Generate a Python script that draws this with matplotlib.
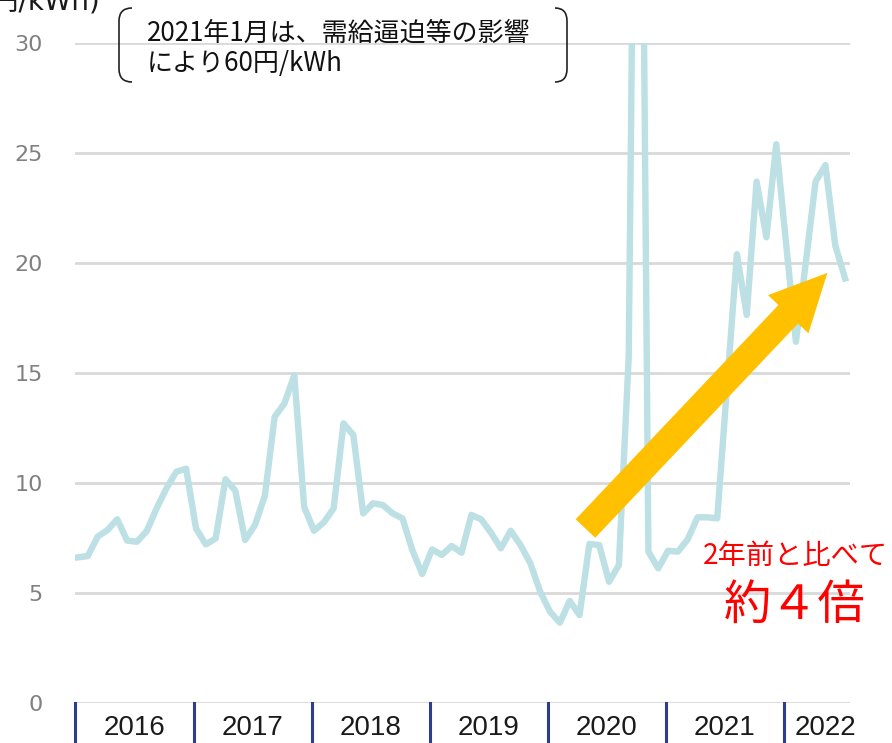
import matplotlib
matplotlib.use("Agg")
import matplotlib.pyplot as plt
from matplotlib.path import Path
from matplotlib.patches import PathPatch
from matplotlib.transforms import blended_transform_factory

plt.rcParams['font.family'] = ['DejaVu Sans', 'Noto Sans CJK JP']

# 月次の卸電力価格 (円/kWh), 2016年1月～2022年7月
price = [6.62, 6.68, 7.56, 7.86, 8.35, 7.38, 7.33, 7.82, 8.85, 9.76, 10.51, 10.65,
         7.94, 7.21, 7.48, 10.17, 9.65, 7.41, 8.09, 9.41, 13.01, 13.62, 14.9, 8.92,
         7.83, 8.21, 8.85, 12.71, 12.18, 8.62, 9.08, 9.0, 8.62, 8.39, 6.95, 5.86,
         6.98, 6.73, 7.14, 6.83, 8.55, 8.35, 7.74, 7.03, 7.83, 7.18, 6.35, 5.06,
         4.15, 3.65, 4.64, 4.0, 7.23, 7.18, 5.51, 6.27, 15.74, 60.0, 6.88, 6.12,
         6.92, 6.88, 7.44, 8.44, 8.44, 8.39, 14.4, 20.4, 17.64, 23.7, 21.17, 25.4,
         20.9, 16.42, 20.0, 23.7, 24.45, 20.8, 19.3]
years = ['2016', '2017', '2018', '2019', '2020', '2021', '2022']
yticks = [0, 5, 10, 15, 20, 25, 30]

W, H = 892, 743
fig = plt.figure(figsize=(W / 100, H / 100), dpi=100)
ax = fig.add_axes([75 / W, 40 / H, 775 / W, 660 / H])

ax.plot(range(len(price)), price, color='#BCE0E4', lw=4.6, zorder=2)

ax.set_xlim(-0.3, 78.5)
ax.set_ylim(0, 30)
ax.set_yticks(yticks)
for v in yticks:
    ax.axhline(v, color='#D9D9D9', lw=2, zorder=1)
ax.tick_params(axis='y', length=0, pad=23, labelsize=16, labelcolor='#808080')
ax.set_xticks([])
for s in ax.spines.values():
    s.set_visible(False)

# 年の区切りと年ラベル
trans = blended_transform_factory(ax.transData, ax.transAxes)
for k, yr in enumerate(years):
    xb = 12 * k - 0.25
    ax.plot([xb, xb], [0, -0.08], color='#2E3D8F', lw=2.2, transform=trans, clip_on=False)
    xc = 12 * k + 5.75 if k < len(years) - 1 else 76.0
    ax.text(xc, -0.038, yr, transform=trans, ha='center', va='center',
            fontsize=20, family=['Liberation Sans'], color='#1a1a1a')

# 単位
fig.text(100 / W, 1 - 9.5 / H, '(円/kWh)', ha='right', va='baseline', fontsize=20,
         color='#1a1a1a')

# 注記 (大かっこ)
def fp(x, y):
    return (x / W, 1 - y / H)

left = [fp(132, 8), fp(119, 8), fp(119, 21), fp(119, 69), fp(119, 82), fp(132, 82)]
right = [fp(555, 8), fp(567, 8), fp(567, 21), fp(567, 69), fp(567, 82), fp(555, 82)]
codes = [Path.MOVETO, Path.CURVE3, Path.CURVE3, Path.LINETO, Path.CURVE3, Path.CURVE3]
for pts in (left, right):
    fig.add_artist(PathPatch(Path(pts, codes), fc='none', ec='#222222', lw=1.2,
                             transform=fig.transFigure))
fig.text(147 / W, 1 - 33 / H, '2021年1月は、需給逼迫等の影響', ha='left', va='center',
         fontsize=18.7, family=['Noto Sans CJK JP'], color='#111111')
fig.text(147 / W, 1 - 63 / H, 'により60円/kWh', ha='left', va='center',
         fontsize=18.7, family=['Noto Sans CJK JP'], color='#111111')

# 矢印
ax.annotate('', xy=(76.2, 19.55), xytext=(51.6, 7.93),
            arrowprops=dict(arrowstyle='simple,head_length=41,head_width=40,tail_width=19.4',
                            mutation_scale=1, fc='#FFC000', ec='none',
                            shrinkA=0, shrinkB=0), zorder=3)

fig.text(795 / W, 1 - 556 / H, '2年前と比べて', ha='center', va='center', fontsize=20.3,
         family=['Noto Sans CJK JP'], color='#FF0000')
fig.text(795 / W, 1 - 606 / H, '約４倍', ha='center', va='center', fontsize=34,
         family=['Noto Sans CJK JP'], color='#FF0000')

fig.savefig('out.png', dpi=100)
